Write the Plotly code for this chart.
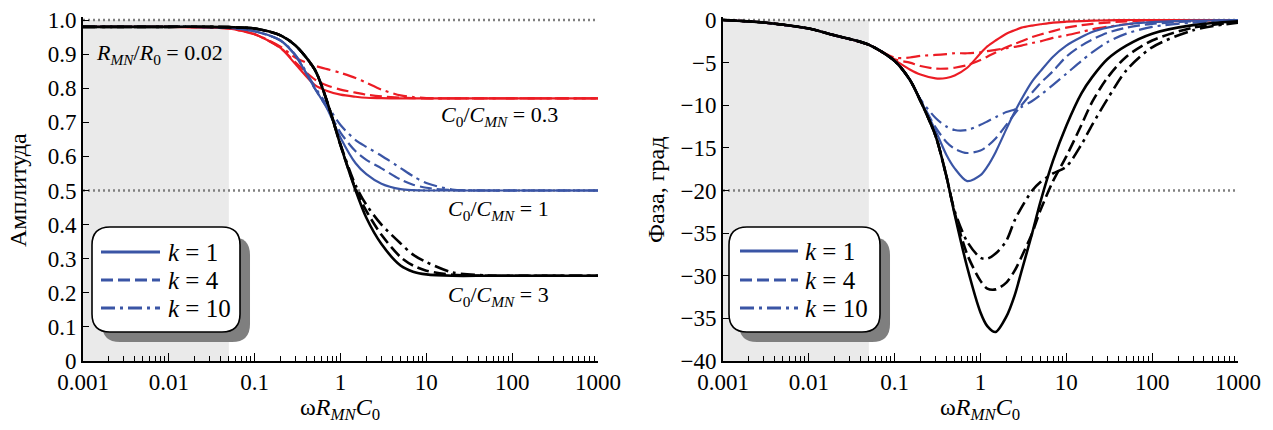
import plotly.graph_objects as go

W, H = 1273, 430

# ---------------- data ----------------
w_amp = [0.001, 0.003, 0.01, 0.03, 0.05, 0.1, 0.2, 0.3, 0.5, 0.7, 1, 1.5, 2, 3, 5, 7, 10, 20, 50, 100, 1000]

amp_red_k1 = [0.98, 0.98, 0.98, 0.978, 0.975, 0.958, 0.918, 0.87, 0.81, 0.792, 0.781, 0.775, 0.772, 0.771, 0.77, 0.77, 0.77, 0.77, 0.77, 0.77, 0.77]
amp_red_k4 = [0.98, 0.98, 0.98, 0.978, 0.975, 0.958, 0.918, 0.875, 0.826, 0.808, 0.796, 0.787, 0.781, 0.776, 0.772, 0.771, 0.77, 0.77, 0.77, 0.77, 0.77]
amp_red_k10 = [0.98, 0.98, 0.98, 0.978, 0.975, 0.958, 0.922, 0.889, 0.866, 0.856, 0.845, 0.83, 0.816, 0.796, 0.779, 0.774, 0.771, 0.77, 0.77, 0.77, 0.77]

amp_blue_k1 = [0.98, 0.98, 0.98, 0.979, 0.977, 0.967, 0.94, 0.895, 0.8, 0.74, 0.655, 0.58, 0.548, 0.52, 0.504, 0.501, 0.5, 0.5, 0.5, 0.5, 0.5]
amp_blue_k4 = [0.98, 0.98, 0.98, 0.979, 0.977, 0.967, 0.94, 0.895, 0.8, 0.742, 0.67, 0.615, 0.59, 0.565, 0.532, 0.517, 0.508, 0.501, 0.5, 0.5, 0.5]
amp_blue_k10 = [0.98, 0.98, 0.98, 0.979, 0.977, 0.967, 0.94, 0.897, 0.805, 0.75, 0.692, 0.648, 0.628, 0.602, 0.566, 0.542, 0.522, 0.503, 0.5, 0.5, 0.5]

amp_black_k1 = [0.98, 0.98, 0.98, 0.98, 0.979, 0.975, 0.955, 0.925, 0.855, 0.76, 0.633, 0.5, 0.42, 0.343, 0.28, 0.262, 0.254, 0.25, 0.25, 0.25, 0.25]
amp_black_k4 = [0.98, 0.98, 0.98, 0.98, 0.979, 0.975, 0.955, 0.925, 0.855, 0.76, 0.633, 0.505, 0.44, 0.37, 0.305, 0.28, 0.265, 0.253, 0.25, 0.25, 0.25]
amp_black_k10 = [0.98, 0.98, 0.98, 0.98, 0.979, 0.975, 0.955, 0.925, 0.855, 0.76, 0.635, 0.515, 0.458, 0.4, 0.345, 0.312, 0.29, 0.26, 0.251, 0.25, 0.25]

w_ph = [0.001, 0.003, 0.01, 0.02, 0.05, 0.1, 0.15, 0.2, 0.3, 0.4, 0.5, 0.7, 1, 1.2, 1.5, 2, 2.5, 3, 4, 5, 7, 10, 15, 20, 30, 50, 100, 300, 1000]

ph_red_k1 = [0, -0.3, -1.0, -1.8, -2.9, -4.7, -5.8, -6.4, -6.85, -6.8, -6.5, -5.6, -3.9, -3.1, -2.4, -1.6, -1.2, -0.9, -0.65, -0.5, -0.3, -0.2, -0.12, -0.08, -0.04, 0, 0, 0, 0]
ph_red_k4 = [0, -0.3, -1.0, -1.8, -2.9, -4.6, -5.0, -5.4, -5.7, -5.7, -5.6, -5.3, -4.7, -4.3, -3.8, -3.2, -2.8, -2.5, -2.0, -1.7, -1.3, -0.9, -0.6, -0.45, -0.3, -0.15, -0.05, 0, 0]
ph_red_k10 = [0, -0.3, -1.0, -1.8, -2.9, -4.4, -4.4, -4.2, -4.1, -4.0, -3.9, -3.9, -3.8, -3.65, -3.5, -3.3, -3.15, -3.0, -2.7, -2.5, -2.1, -1.8, -1.4, -1.1, -0.8, -0.5, -0.25, -0.08, 0]

ph_blue_k1 = [0, -0.3, -1.0, -1.8, -2.9, -4.8, -7.0, -9.4, -13.0, -15.8, -17.4, -18.9, -18.2, -17.2, -15.5, -12.8, -10.8, -9.3, -7.2, -6.0, -4.3, -3.0, -2.0, -1.4, -0.9, -0.5, -0.25, -0.08, 0]
ph_blue_k4 = [0, -0.3, -1.0, -1.8, -2.9, -4.8, -7.0, -9.4, -12.6, -14.3, -15.1, -15.6, -15.3, -14.8, -13.9, -12.3, -11.0, -10.0, -8.5, -7.4, -6.0, -4.3, -3.0, -2.3, -1.5, -0.9, -0.45, -0.15, 0]
ph_blue_k10 = [0, -0.3, -1.0, -1.8, -2.9, -4.8, -7.0, -9.3, -11.5, -12.5, -12.9, -12.9, -12.3, -11.9, -11.4, -10.8, -10.5, -10.2, -9.5, -8.8, -7.6, -6.3, -4.8, -3.8, -2.6, -1.6, -0.8, -0.3, -0.05]

ph_black_k1 = [0, -0.3, -1.0, -1.8, -2.9, -4.8, -7.0, -9.5, -13.6, -18.3, -22.8, -29.0, -34.3, -35.9, -36.6, -34.8, -32.3, -29.5, -25.0, -21.3, -16.5, -12.4, -8.6, -6.7, -4.6, -3.0, -1.6, -0.6, -0.15]
ph_black_k4 = [0, -0.3, -1.0, -1.8, -2.9, -4.8, -7.0, -9.5, -13.6, -18.3, -22.6, -27.5, -30.6, -31.5, -31.6, -30.8, -29.4, -27.8, -25.0, -22.3, -18.9, -16.0, -12.3, -9.6, -6.8, -4.3, -2.4, -0.9, -0.25]
ph_black_k10 = [0, -0.3, -1.0, -1.8, -2.9, -4.8, -7.0, -9.5, -13.6, -18.3, -22.4, -26.0, -27.9, -28.0, -27.4, -25.9, -23.5, -22.0, -20.0, -19.0, -18.0, -17.2, -14.6, -12.3, -9.3, -5.9, -3.2, -1.2, -0.3]

x_tickvals = [0.001, 0.01, 0.1, 1, 10, 100, 1000]
x_ticktext = ["0.001", "0.01", "0.1", "1", "10", "100", "1000"]
amp_tickvals = [0, 0.1, 0.2, 0.3, 0.4, 0.5, 0.6, 0.7, 0.8, 0.9, 1.0]
amp_ticktext = ["0", "0.1", "0.2", "0.3", "0.4", "0.5", "0.6", "0.7", "0.8", "0.9", "1.0"]
ph_tickvals = [0, -5, -10, -15, -20, -25, -30, -35, -40]
ph_ticktext = ["0", "\u22125", "\u221210", "\u221215", "\u221220", "\u221235", "\u221230", "\u221235", "\u221240"]
legend_labels = ["<i>k</i> = 1", "<i>k</i> = 4", "<i>k</i> = 10"]
ratio_labels = ["0.3", "1", "3"]
shade_limits = [0.001, 0.05]

# ---------------- styling ----------------
RED = "#ec1c24"
BLUE = "#3a55a5"
BLACK = "#000000"
FONT = "Liberation Serif, Times New Roman, serif"
DASHES = ["solid", "12px,5px", "14px,5px,3px,5px"]

minor_vals = [m * 10 ** e for e in range(-3, 3) for m in range(2, 10)]


def px_x(px):
    return px / W


def px_y(py):
    return 1 - py / H


fig = go.Figure()

# shaded regions
fig.add_trace(go.Scatter(x=[shade_limits[0], shade_limits[1], shade_limits[1], shade_limits[0], shade_limits[0]],
                         y=[0, 0, 1, 1, 0], fill="toself", fillcolor="rgb(234,234,234)",
                         line=dict(width=0), mode="lines", showlegend=False, hoverinfo="skip",
                         xaxis="x", yaxis="y"))
fig.add_trace(go.Scatter(x=[shade_limits[0], shade_limits[1], shade_limits[1], shade_limits[0], shade_limits[0]],
                         y=[-40, -40, 0, 0, -40], fill="toself", fillcolor="rgb(234,234,234)",
                         line=dict(width=0), mode="lines", showlegend=False, hoverinfo="skip",
                         xaxis="x2", yaxis="y2"))

# dotted reference lines
for yv, xa, ya in [(1.0, "x", "y"), (0.5, "x", "y"), (0, "x2", "y2"), (-20, "x2", "y2")]:
    fig.add_trace(go.Scatter(x=[0.001, 1000], y=[yv, yv], mode="lines",
                             line=dict(color="#808080", width=2.4, dash="2px,3px"),
                             showlegend=False, hoverinfo="skip", xaxis=xa, yaxis=ya))

amp_series = [
    (RED, [amp_red_k1, amp_red_k4, amp_red_k10], 2.2),
    (BLUE, [amp_blue_k1, amp_blue_k4, amp_blue_k10], 2.2),
    (BLACK, [amp_black_k1, amp_black_k4, amp_black_k10], 2.6),
]
ph_series = [
    (RED, [ph_red_k1, ph_red_k4, ph_red_k10], 2.2),
    (BLUE, [ph_blue_k1, ph_blue_k4, ph_blue_k10], 2.2),
    (BLACK, [ph_black_k1, ph_black_k4, ph_black_k10], 2.6),
]

for color, ys, lw in amp_series:
    for i, yv in enumerate(ys):
        fig.add_trace(go.Scatter(x=w_amp, y=yv, mode="lines",
                                 line=dict(color=color, width=lw, dash=DASHES[i], shape="spline", smoothing=0.8),
                                 showlegend=False, xaxis="x", yaxis="y"))
for color, ys, lw in ph_series:
    for i, yv in enumerate(ys):
        fig.add_trace(go.Scatter(x=w_ph, y=yv, mode="lines",
                                 line=dict(color=color, width=lw, dash=DASHES[i], shape="spline", smoothing=0.8),
                                 showlegend=False, xaxis="x2", yaxis="y2"))

ydom = [px_y(361), px_y(16.6)]
axis_common = dict(showline=True, linecolor="black", linewidth=1.6, showgrid=False, zeroline=False,
                   ticks="inside", tickcolor="black", tickwidth=1.3, automargin=False,
                   tickfont=dict(family=FONT, size=23, color="black"))

fig.update_layout(
    width=W, height=H, autosize=False,
    margin=dict(l=0, r=0, t=0, b=0, pad=0),
    paper_bgcolor="white", plot_bgcolor="white",
    showlegend=False,
    xaxis=dict(type="log", range=[-3, 3], domain=[px_x(83), px_x(598)], anchor="y",
               tickvals=x_tickvals, ticktext=x_ticktext, ticklen=8,
               minor=dict(tickvals=minor_vals, ticks="inside", ticklen=5, tickcolor="black", tickwidth=1.1, showgrid=False),
               **axis_common),
    yaxis=dict(range=[0, 1.01], domain=ydom, anchor="x",
               tickvals=amp_tickvals, ticktext=amp_ticktext, ticklen=6, **axis_common),
    xaxis2=dict(type="log", range=[-3, 3], domain=[px_x(723), px_x(1238)], anchor="y2",
                tickvals=x_tickvals, ticktext=x_ticktext, ticklen=8,
                minor=dict(tickvals=minor_vals, ticks="inside", ticklen=5, tickcolor="black", tickwidth=1.1, showgrid=False),
                **axis_common),
    yaxis2=dict(range=[-40, 0.4], domain=ydom, anchor="x2",
                tickvals=ph_tickvals, ticktext=ph_ticktext, ticklen=6, **axis_common),
)


def rounded_rect(x0, y0, x1, y1, r):
    def P(x, y):
        return f"{px_x(x):.5f},{px_y(y):.5f}"
    return (f"M {P(x0 + r, y0)} L {P(x1 - r, y0)} Q {P(x1, y0)} {P(x1, y0 + r)} "
            f"L {P(x1, y1 - r)} Q {P(x1, y1)} {P(x1 - r, y1)} "
            f"L {P(x0 + r, y1)} Q {P(x0, y1)} {P(x0, y1 - r)} "
            f"L {P(x0, y0 + r)} Q {P(x0, y0)} {P(x0 + r, y0)} Z")


shapes = []
annotations = []
for (bx0, bx1, lx0, lx1, tx, rows) in [
    (92, 240, 101, 160, 166, [252, 280, 308]),
    (729, 880, 740, 798, 803, [251, 280, 308]),
]:
    by0, by1 = 227, 332
    shapes.append(dict(type="path", xref="paper", yref="paper", layer="above",
                       path=rounded_rect(bx0 + 10, by0 + 10, bx1 + 10, by1 + 10, 18),
                       fillcolor="#7f7f7f", line=dict(width=0)))
    shapes.append(dict(type="path", xref="paper", yref="paper", layer="above",
                       path=rounded_rect(bx0, by0, bx1, by1, 18),
                       fillcolor="white", line=dict(color="black", width=1.6)))
    for i, ry in enumerate(rows):
        shapes.append(dict(type="line", xref="paper", yref="paper", layer="above",
                           x0=px_x(lx0), x1=px_x(lx1), y0=px_y(ry), y1=px_y(ry),
                           line=dict(color=BLUE, width=3, dash=DASHES[i])))
        annotations.append(dict(xref="paper", yref="paper", x=px_x(tx), y=px_y(ry), xanchor="left",
                                yanchor="middle", showarrow=False, text=legend_labels[i],
                                font=dict(family=FONT, size=25, color="black")))

# curve labels
for lab, (cx, cy) in zip(ratio_labels, [(499, 116), (498, 210), (498, 296)]):
    annotations.append(dict(xref="paper", yref="paper", x=px_x(cx), y=px_y(cy), xanchor="center",
                            yanchor="middle", showarrow=False,
                            text=f"<i>C</i><sub>0</sub>/<i>C</i><sub><i>MN</i></sub> = {lab}",
                            font=dict(family=FONT, size=22, color="black")))

annotations.append(dict(xref="paper", yref="paper", x=px_x(94), y=px_y(54), xanchor="left",
                        yanchor="middle", showarrow=False,
                        text="<i>R</i><sub><i>MN</i></sub>/<i>R</i><sub>0</sub> = 0.02",
                        font=dict(family=FONT, size=22, color="black")))

# axis titles
for cx in [340, 980]:
    annotations.append(dict(xref="paper", yref="paper", x=px_x(cx), y=px_y(409), xanchor="center",
                            yanchor="middle", showarrow=False,
                            text="\u03c9<i>R</i><sub><i>MN</i></sub><i>C</i><sub>0</sub>",
                            font=dict(family=FONT, size=24, color="black")))
annotations.append(dict(xref="paper", yref="paper", x=px_x(18), y=px_y(190), xanchor="center",
                        yanchor="middle", showarrow=False, textangle=-90, text="Амплитуда",
                        font=dict(family=FONT, size=24, color="black")))
annotations.append(dict(xref="paper", yref="paper", x=px_x(656), y=px_y(190), xanchor="center",
                        yanchor="middle", showarrow=False, textangle=-90, text="Фаза, град",
                        font=dict(family=FONT, size=24, color="black")))

fig.update_layout(shapes=shapes, annotations=annotations)

fig.write_html("out.html",
               config={"displayModeBar": False},
               post_script="document.body.style.margin='0';document.body.style.overflow='hidden';")
